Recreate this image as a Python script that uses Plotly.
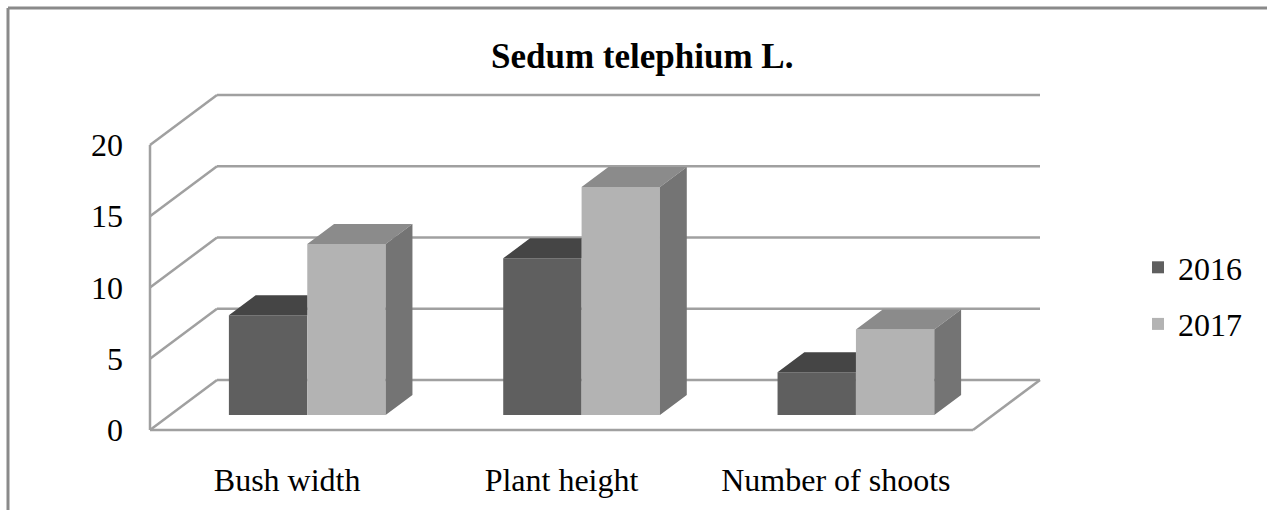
import plotly.graph_objects as go

# ---------------- data ----------------
categories = ["Bush width", "Plant height", "Number of shoots"]
series_names = ["2016", "2017"]
values_2016 = [7, 11, 3]
values_2017 = [12, 16, 6]
y_ticks = [0, 5, 10, 15, 20]
title_text = "Sedum telephium L."

# ---------------- style ----------------
front_colors = ["#5f5f5f", "#b3b3b3"]
top_colors = ["#454545", "#8b8b8b"]
side_colors = ["#505050", "#747474"]
grid_color = "#a0a0a0"
frame_color = "#8a8a8a"
FONT = "Liberation Serif"

W, H = 1267, 510
X0PX, Y0PX = 150, 430          # pixel of (x=0, y=0) on the front plane
PXU = 274.33                   # pixels per category
PYU = 14.25                    # pixels per value unit
DX = 67 / PXU                  # depth offset (category units)
DY = 50 / PYU                  # depth offset (value units)
PAD = 6
BAR_W = 1 / 3.5                # gap width 150 %
D_FRONT, D_BACK = 0.3, 0.7     # bar depth placement
n = len(categories)
ymax = max(y_ticks)

left = X0PX - PAD
right = X0PX + (n + DX) * PXU + PAD
bottom = Y0PX + PAD
top = Y0PX - (ymax + DY) * PYU - PAD
PW, PH = right - left, bottom - top


def px_x(p):
    return (p - left) / PW


def px_y(p):
    return (bottom - p) / PH


series_values = [values_2016, values_2017]

fig = go.Figure()

base = D_FRONT * DY
bd_x = (D_BACK - D_FRONT) * DX
bd_y = (D_BACK - D_FRONT) * DY

for s, (name, vals) in enumerate(zip(series_names, series_values)):
    xc = [i + 0.5 + D_FRONT * DX + (s - 0.5) * BAR_W for i in range(n)]
    fig.add_trace(go.Bar(
        x=xc, y=vals, base=base, width=BAR_W, name=name,
        marker=dict(color=front_colors[s], line=dict(width=0)),
        showlegend=True, legendgroup=name,
    ))
    tx, ty = [], []
    sx, sy = [], []
    for i, v in enumerate(vals):
        xl = xc[i] - BAR_W / 2
        xr = xc[i] + BAR_W / 2
        t = base + v
        if s == 0:
            # right part is hidden behind the taller neighbouring bar
            tx += [xl, xr, xr, xl + bd_x, xl, None]
            ty += [t, t, t + bd_y, t + bd_y, t, None]
        else:
            tx += [xl, xr, xr + bd_x, xl + bd_x, xl, None]
            ty += [t, t, t + bd_y, t + bd_y, t, None]
            sx += [xr, xr + bd_x, xr + bd_x, xr, xr, None]
            sy += [base, base + bd_y, t + bd_y, t, base, None]
    fig.add_trace(go.Scatter(
        x=tx, y=ty, mode="lines", fill="toself", fillcolor=top_colors[s],
        line=dict(width=0, color=top_colors[s]), showlegend=False,
        hoverinfo="skip"))
    if sx:
        fig.add_trace(go.Scatter(
            x=sx, y=sy, mode="lines", fill="toself", fillcolor=side_colors[s],
            line=dict(width=0, color=side_colors[s]), showlegend=False,
            hoverinfo="skip"))

# walls / grid as shapes below the traces
shapes = []
line_style = dict(color=grid_color, width=2.5)
for v in y_ticks:
    shapes.append(dict(type="line", xref="x", yref="y", x0=DX, y0=v + DY,
                       x1=n + DX, y1=v + DY, line=line_style, layer="below"))
    shapes.append(dict(type="line", xref="x", yref="y", x0=0, y0=v,
                       x1=DX, y1=v + DY, line=line_style, layer="below"))
shapes.append(dict(type="line", xref="x", yref="y", x0=0, y0=0, x1=0, y1=ymax,
                   line=line_style, layer="below"))
shapes.append(dict(type="line", xref="x", yref="y", x0=0, y0=0, x1=n, y1=0,
                   line=line_style, layer="below"))
shapes.append(dict(type="line", xref="x", yref="y", x0=n, y0=0, x1=n + DX, y1=DY,
                   line=line_style, layer="below"))
# outer chart frame
shapes.append(dict(type="line", xref="paper", yref="paper", x0=px_x(8), y0=px_y(8),
                   x1=px_x(W + 10), y1=px_y(8), line=dict(color=frame_color, width=3)))
shapes.append(dict(type="line", xref="paper", yref="paper", x0=px_x(8), y0=px_y(8),
                   x1=px_x(8), y1=px_y(H + 10), line=dict(color=frame_color, width=3)))

fig.update_layout(
    width=W, height=H, autosize=False,
    margin=dict(l=left, r=W - right, t=top, b=H - bottom, pad=0),
    paper_bgcolor="white", plot_bgcolor="rgba(0,0,0,0)",
    barmode="overlay",
    font=dict(family=FONT, size=32, color="black"),
    shapes=shapes,
    showlegend=True,
    legend=dict(x=px_x(1138), y=px_y(240), xanchor="left", yanchor="top",
                font=dict(family=FONT, size=32, color="black"),
                bgcolor="rgba(0,0,0,0)", traceorder="grouped", tracegroupgap=12),
    annotations=[dict(text=title_text, xref="paper", yref="paper",
                      x=px_x(642), y=px_y(57), xanchor="center", yanchor="middle",
                      showarrow=False,
                      font=dict(family=FONT, size=35, color="black", weight="bold"))],
    xaxis=dict(range=[-PAD / PXU, n + DX + PAD / PXU], showgrid=False, zeroline=False,
               showline=False, tickmode="array",
               tickvals=[i + 0.5 for i in range(n)], ticktext=categories,
               ticks="", ticklabelstandoff=22, fixedrange=True),
    yaxis=dict(range=[-PAD / PYU, ymax + DY + PAD / PYU], showgrid=False, zeroline=False,
               showline=False, tickmode="array", tickvals=y_ticks,
               ticktext=[str(t) for t in y_ticks],
               ticks="", ticklabelstandoff=20, fixedrange=True),
)

fig.write_html("out.html", config={"displayModeBar": False},
               post_script="document.body.style.margin='0';document.body.style.overflow='hidden';")
